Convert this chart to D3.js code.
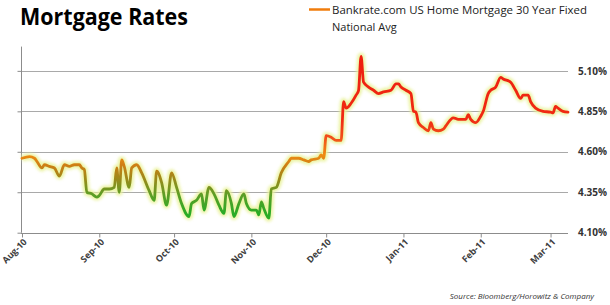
<!DOCTYPE html>
<html>
<head>
<meta charset="utf-8">
<script src="https://cdn.jsdelivr.net/npm/d3@7"></script>
<style>
  body { margin: 0; background: #fff; }
  svg { display: block; }
</style>
</head>
<body>
<div id="chart"></div>
<script>
// Mortgage rates, Aug-10 to Mar-11

var dates = [
  "2010-08-01","2010-08-04","2010-08-06","2010-08-07","2010-08-09","2010-08-10","2010-08-12","2010-08-14",
  "2010-08-16","2010-08-18","2010-08-20","2010-08-22","2010-08-24","2010-08-25","2010-08-26","2010-08-27",
  "2010-08-29","2010-08-31","2010-09-01","2010-09-03","2010-09-05","2010-09-07","2010-09-08","2010-09-09",
  "2010-09-10","2010-09-11","2010-09-13","2010-09-14","2010-09-16","2010-09-18","2010-09-21","2010-09-23",
  "2010-09-24","2010-09-26","2010-09-28","2010-09-30","2010-10-02","2010-10-04","2010-10-07","2010-10-08",
  "2010-10-10","2010-10-12","2010-10-13","2010-10-15","2010-10-17","2010-10-19","2010-10-21","2010-10-22",
  "2010-10-24","2010-10-25","2010-10-27","2010-10-29","2010-10-30","2010-11-01","2010-11-03","2010-11-04",
  "2010-11-05","2010-11-06","2010-11-08","2010-11-09","2010-11-11","2010-11-13","2010-11-16","2010-11-17",
  "2010-11-19","2010-11-20","2010-11-22","2010-11-24","2010-11-25","2010-11-28","2010-11-29","2010-11-30",
  "2010-12-01","2010-12-03","2010-12-05","2010-12-07","2010-12-08","2010-12-09","2010-12-11","2010-12-13",
  "2010-12-14","2010-12-15","2010-12-16","2010-12-18","2010-12-20","2010-12-22","2010-12-24","2010-12-27",
  "2010-12-29","2010-12-30","2010-12-31","2011-01-02","2011-01-04","2011-01-05","2011-01-06","2011-01-07",
  "2011-01-09","2011-01-11","2011-01-12","2011-01-13","2011-01-15","2011-01-17","2011-01-18","2011-01-21",
  "2011-01-23","2011-01-26","2011-01-27","2011-01-28","2011-01-30","2011-02-01","2011-02-02","2011-02-04",
  "2011-02-05","2011-02-07","2011-02-09","2011-02-10","2011-02-13","2011-02-15","2011-02-17","2011-02-18",
  "2011-02-20","2011-02-21","2011-02-23","2011-02-26","2011-03-01","2011-03-02","2011-03-03","2011-03-04",
  "2011-03-06","2011-03-08"
];

var rates = [
  4.56, 4.57, 4.56, 4.54, 4.50, 4.52, 4.51, 4.50,
  4.45, 4.52, 4.51, 4.52, 4.52, 4.50, 4.49, 4.35,
  4.34, 4.32, 4.33, 4.37, 4.37, 4.38, 4.50, 4.35,
  4.55, 4.51, 4.38, 4.50, 4.52, 4.47, 4.36, 4.30,
  4.48, 4.41, 4.27, 4.47, 4.38, 4.28, 4.20, 4.28,
  4.30, 4.34, 4.24, 4.38, 4.34, 4.27, 4.22, 4.36,
  4.28, 4.20, 4.28, 4.34, 4.28, 4.24, 4.24, 4.21,
  4.29, 4.25, 4.19, 4.37, 4.38, 4.47, 4.54, 4.56,
  4.56, 4.56, 4.55, 4.54, 4.55, 4.56, 4.58, 4.56,
  4.70, 4.69, 4.67, 4.67, 4.91, 4.87, 4.90, 4.95,
  4.98, 5.19, 5.03, 5.00, 4.98, 4.96, 4.97, 4.98,
  5.02, 5.02, 5.00, 4.98, 4.96, 4.85, 4.845, 4.78,
  4.75, 4.73, 4.78, 4.74, 4.73, 4.74, 4.76, 4.81,
  4.80, 4.80, 4.83, 4.80, 4.78, 4.82, 4.85, 4.96,
  4.98, 5.00, 5.06, 5.05, 5.03, 4.98, 4.93, 4.95,
  4.95, 4.91, 4.87, 4.85, 4.845, 4.84, 4.88, 4.87,
  4.85, 4.845
];

var rateTicks = [4.10, 4.35, 4.60, 4.85, 5.10];
var monthTicks = ["2010-08-01","2010-09-01","2010-10-01","2010-11-01","2010-12-01","2011-01-01","2011-02-01","2011-03-01"];

// colour of the line by rate level
var colorStops = [
  {rate: 4.10, color: "#1fae22"},
  {rate: 4.22, color: "#2aab26"},
  {rate: 4.33, color: "#5a9e26"},
  {rate: 4.43, color: "#9a8a1a"},
  {rate: 4.52, color: "#d07e14"},
  {rate: 4.58, color: "#ee8c12"},
  {rate: 4.68, color: "#f2521a"},
  {rate: 4.80, color: "#f02a12"},
  {rate: 5.25, color: "#ee1c10"}
];

var svgWidth = 610;
var svgHeight = 305;

var parseDate = d3.timeParse("%Y-%m-%d");
var series = dates.map(function(d, i) {
  return {date: parseDate(d), rate: rates[i]};
});

var svg = d3.select("#chart")
  .append("svg")
  .attr("width", svgWidth)
  .attr("height", svgHeight);

var xScale = d3.scaleTime()
  .domain([parseDate("2010-08-01"), parseDate("2011-03-08")])
  .range([22, 568]);

var yScale = d3.scaleLinear()
  .domain([4.10, 5.25])
  .range([232.7, 46.6]);

var defs = svg.append("defs");

var grad = defs.append("linearGradient")
  .attr("id", "rateGrad")
  .attr("gradientUnits", "userSpaceOnUse")
  .attr("x1", 0).attr("x2", 0)
  .attr("y1", yScale(4.10))
  .attr("y2", yScale(5.25));

grad.selectAll("stop")
  .data(colorStops)
  .enter()
  .append("stop")
  .attr("offset", d => (d.rate - 4.10) / (5.25 - 4.10))
  .attr("stop-color", d => d.color);

var blur = defs.append("filter")
  .attr("id", "glow")
  .attr("x", "-5%").attr("y", "-20%")
  .attr("width", "110%").attr("height", "140%");
blur.append("feGaussianBlur").attr("stdDeviation", 1.6);

// gridlines
svg.append("g")
  .selectAll("line")
  .data(rateTicks.slice(1))
  .enter()
  .append("line")
  .attr("x1", 21)
  .attr("x2", 568)
  .attr("y1", d => Math.round(yScale(d)) + 0.5)
  .attr("y2", d => Math.round(yScale(d)) + 0.5)
  .attr("stroke", "#a9a9a9")
  .attr("stroke-width", 1.2);

// left axis (ticks only, no labels)
var leftAxis = d3.axisLeft(yScale)
  .tickValues(rateTicks)
  .tickSize(4)
  .tickFormat("");

svg.append("g")
  .attr("transform", "translate(21.5,0)")
  .call(leftAxis)
  .call(g => g.select(".domain").attr("stroke", "#8c8c8c").attr("d", "M0," + yScale(5.25) + "V" + yScale(4.10)))
  .call(g => g.selectAll(".tick line").attr("stroke", "#8c8c8c"));

// right labels
var rightAxis = d3.axisRight(yScale)
  .tickValues(rateTicks)
  .tickSize(0)
  .tickPadding(0)
  .tickFormat(d => d.toFixed(2) + "%");

svg.append("g")
  .attr("transform", "translate(578,0)")
  .call(rightAxis)
  .call(g => g.select(".domain").remove())
  .call(g => g.selectAll("text")
    .attr("font-family", "'Open Sans', sans-serif")
    .attr("font-size", 10)
    .attr("font-weight", "bold")
    .attr("fill", "#333"));

// bottom axis
var bottomAxis = d3.axisBottom(xScale)
  .tickValues(monthTicks.map(parseDate))
  .tickSize(4)
  .tickFormat(d3.timeFormat("%b-%y"));

svg.append("g")
  .attr("transform", "translate(0," + (Math.round(yScale(4.10)) + 0.5) + ")")
  .call(bottomAxis)
  .call(g => g.select(".domain").attr("stroke", "#8c8c8c").attr("d", "M21,0H568"))
  .call(g => g.selectAll(".tick line").attr("stroke", "#8c8c8c"))
  .call(g => g.selectAll("text")
    .attr("font-family", "'Open Sans', sans-serif")
    .attr("font-size", 9)
    .attr("font-weight", "bold")
    .attr("fill", "#404040")
    .attr("text-anchor", "end")
    .attr("dy", 0)
    .attr("y", 0)
    .attr("transform", "translate(5,9) rotate(-45)"));

var line = d3.line()
  .x(d => xScale(d.date))
  .y(d => yScale(d.rate))
  .curve(d3.curveMonotoneX);

// soft halo under the line
svg.append("path")
  .datum(series)
  .attr("d", line)
  .attr("fill", "none")
  .attr("stroke", "#e9f29a")
  .attr("stroke-width", 7)
  .attr("stroke-linejoin", "round")
  .attr("opacity", 0.9)
  .attr("filter", "url(#glow)");

svg.append("path")
  .datum(series)
  .attr("d", line)
  .attr("fill", "none")
  .attr("stroke", "url(#rateGrad)")
  .attr("stroke-width", 2.8)
  .attr("stroke-linejoin", "round")
  .attr("stroke-linecap", "round");

// title
svg.append("text")
  .attr("x", 20)
  .attr("y", 25)
  .attr("font-family", "'Open Sans', sans-serif")
  .attr("font-size", 23)
  .attr("font-weight", "bold")
  .attr("fill", "#000")
  .attr("textLength", 168)
  .attr("lengthAdjust", "spacingAndGlyphs")
  .text("Mortgage Rates");

// legend
svg.append("line")
  .attr("x1", 309).attr("x2", 330)
  .attr("y1", 9.5).attr("y2", 9.5)
  .attr("stroke", "#f07c0c")
  .attr("stroke-width", 2.5);

var legendText = svg.append("text")
  .attr("font-family", "'Open Sans', sans-serif")
  .attr("font-size", 11)
  .attr("fill", "#222");
legendText.append("tspan")
  .attr("x", 332).attr("y", 14)
  .attr("textLength", 255)
  .attr("lengthAdjust", "spacingAndGlyphs")
  .text("Bankrate.com US Home  Mortgage 30 Year Fixed");
legendText.append("tspan")
  .attr("x", 332).attr("y", 31)
  .text("National Avg");

// source
svg.append("text")
  .attr("x", 594)
  .attr("y", 299)
  .attr("text-anchor", "end")
  .attr("font-family", "'Open Sans', sans-serif")
  .attr("font-size", 8)
  .attr("font-style", "italic")
  .attr("fill", "#333")
  .text("Source: Bloomberg/Horowitz & Company");
</script>
</body>
</html>
